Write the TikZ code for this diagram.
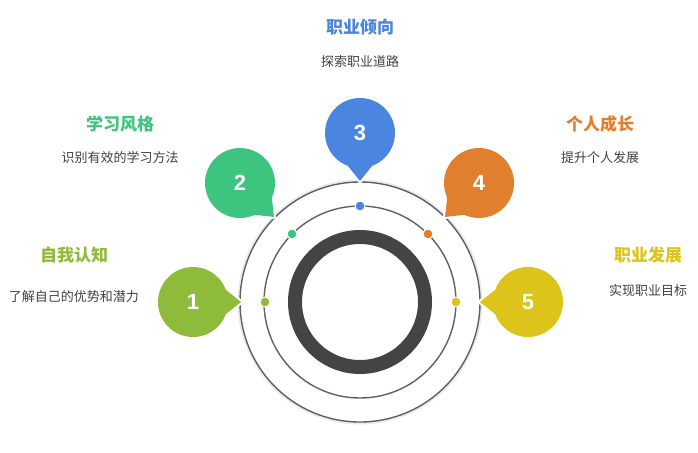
\documentclass[tikz,border=0pt]{standalone}
\usepackage{fontspec}
\setmainfont{Liberation Sans}
\newfontfamily\cjk{Noto Sans CJK SC}
\begin{document}
\begin{tikzpicture}[x=1pt,y=-1pt,
  ttl/.style={font=\cjk\bfseries\fontsize{17}{19}\selectfont},
  dsc/.style={font=\cjk\fontsize{13}{17}\selectfont,text=black!75,align=center},
  num/.style={font=\bfseries\fontsize{22}{24}\selectfont,text=white},
  dotn/.style={circle,inner sep=0pt,minimum size=10pt,draw=white,line width=1pt}]
\definecolor{c1}{HTML}{8FBB3A}\definecolor{c2}{HTML}{3DC47E}\definecolor{c3}{HTML}{4A86E0}
\definecolor{c4}{HTML}{E0802F}\definecolor{c5}{HTML}{DCC41A}
\definecolor{ringc}{HTML}{444444}
\useasboundingbox (0,0) rectangle (698,452);
\coordinate (c) at (360,302);
\draw[black!8,line width=3pt] (c) circle (121);
\draw[ringc!85,line width=1.4pt] (c) circle (120);
\draw[ringc!85,line width=1.4pt] (c) circle (96);
\draw[ringc,line width=14pt] (c) circle (65);
\newcommand\bub[5]{%
 \begin{scope}[shift={(#1,#2)},rotate=#3]
  \draw[white,line width=4pt,line join=round] (0,0) circle (35) (28,-16) -- (48,0) -- (28,16) -- cycle;
  \fill[#4] (0,0) circle (35) (28,-16) -- (48,0) -- (28,16) -- cycle;
 \end{scope}
 \node[num] (n#5) at (#1,#2) {#5};}
\bub{193}{302}{0}{c1}{1}
\bub{240}{183}{-45}{c2}{2}
\bub{360}{133}{-90}{c3}{3}
\bub{479}{183}{-135}{c4}{4}
\bub{528}{302}{180}{c5}{5}
\node[dotn,fill=c1] (d1) at (265,302) {};
\node[dotn,fill=c2] (d2) at (292,234) {};
\node[dotn,fill=c3] (d3) at (360,206) {};
\node[dotn,fill=c4] (d4) at (428,234) {};
\node[dotn,fill=c5] (d5) at (456,302) {};
\node[ttl,text=c1] (t1) at (74,255) {自我认知};
\node[dsc,text width=132pt] (s1) at (74,297) {了解自己的优势和潜力};
\node[ttl,text=c2] (t2) at (120,124) {学习风格};
\node[dsc] (s2) at (120,158) {识别有效的学习方法};
\node[ttl,text=c3] (t3) at (360,27) {职业倾向};
\node[dsc] (s3) at (360,62) {探索职业道路};
\node[ttl,text=c4] (t4) at (600,124) {个人成长};
\node[dsc] (s4) at (600,158) {提升个人发展};
\node[ttl,text=c5] (t5) at (648,255) {职业发展};
\node[dsc] (s5) at (648,291) {实现职业目标};
\end{tikzpicture}
\end{document}
